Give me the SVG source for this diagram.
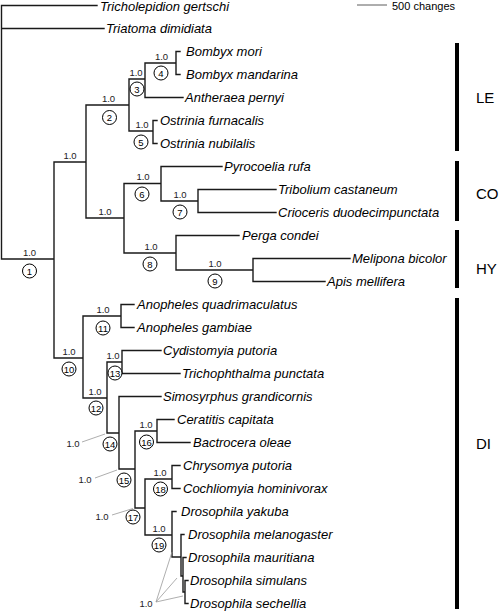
<svg xmlns="http://www.w3.org/2000/svg" width="500" height="611" viewBox="0 0 500 611">
<style>
.br{fill:none;stroke:#1a1a1a;stroke-width:1.4;stroke-linecap:square}
.lead{fill:none;stroke:#999;stroke-width:0.8}
.tx{font-family:"Liberation Sans",Arial,sans-serif;font-style:italic;font-size:13px;fill:#000}
.sup{font-family:"Liberation Sans",Arial,sans-serif;font-size:9.5px;fill:#222;text-anchor:middle}
.num{font-family:"Liberation Sans",Arial,sans-serif;font-size:9.5px;fill:#000;text-anchor:middle}
.cir{fill:#fff;stroke:#000;stroke-width:1}
.clade{font-family:"Liberation Sans",Arial,sans-serif;font-size:15px;fill:#000}
.bar{fill:#000}
</style>
<rect width="500" height="611" fill="#fff"/>
<g id="connectors">
<path class="br" d="M1.5 5.5V259M1.5 5.5H97M1.5 28.5H104M1.5 259H54M54 162V358M54 162H86M54 358H83M86 105V218M86 105H129M86 218H124M129 79V131M129 79H145M129 131H153M145 63V97.5M145 63H176M145 97.5H183M176 51.5V74.5M176 51.5H180M176 74.5H180M153 120.5V143.5M153 120.5H157M153 143.5H157M124 183.5V253M124 183.5H161M124 253H176M161 166.5V201M161 166.5H222M161 201H198M198 189.5V212.5M198 189.5H276M198 212.5H276M176 235.5V270M176 235.5H239M176 270H253M253 258.5V281.5M253 258.5H350M253 281.5H325M83 316V398M83 316H121M83 398H107M121 304.5V327.5M121 304.5H134M121 327.5H134M107 362V433M107 362H122M107 433H119M122 350.5V373.5M122 350.5H161M122 373.5H180M119 396.5V469M119 396.5H161M119 469H135M135 431V508M135 431H157M135 508H145M157 419.5V442.5M157 419.5H174M157 442.5H190M145 479V535M145 479H172M145 535H172M172 465.5V488.5M172 465.5H180M172 488.5H180M172 511.5V557M172 511.5H176M172 557H181M181 534.5V576M181 534.5H184M181 576H183M183 557.5V592M183 557.5H186M183 592H185M185 580.5V603.5M185 580.5H188M185 603.5H188"/>
<path class="lead" d="M82 442L105 434M95 478L117 470M112 515L133 508.5M156 602L172 552M156 602L177 578M156 602L183 596"/>
</g>
<g id="scale">
<line x1="357" y1="5" x2="387" y2="5" stroke="#333" stroke-width="0.8"/>
<text x="392" y="9.5" font-family="'Liberation Sans',Arial,sans-serif" font-size="11">500 changes</text>
</g>
<g id="taxa">
<g id="t-tricholepidion"><text class="tx" x="100" y="10.8">Tricholepidion gertschi</text></g>
<g id="t-triatoma"><text class="tx" x="106" y="33">Triatoma dimidiata</text></g>
<g id="t-bombyx-mori"><text class="tx" x="186" y="56">Bombyx mori</text></g>
<g id="t-bombyx-mandarina"><text class="tx" x="186" y="79">Bombyx mandarina</text></g>
<g id="t-antheraea"><text class="tx" x="185" y="102">Antheraea pernyi</text></g>
<g id="t-ostrinia-f"><text class="tx" x="160" y="125">Ostrinia furnacalis</text></g>
<g id="t-ostrinia-n"><text class="tx" x="160" y="148">Ostrinia nubilalis</text></g>
<g id="t-pyrocoelia"><text class="tx" x="224" y="171">Pyrocoelia rufa</text></g>
<g id="t-tribolium"><text class="tx" x="278" y="194">Tribolium castaneum</text></g>
<g id="t-crioceris"><text class="tx" x="278" y="217">Crioceris duodecimpunctata</text></g>
<g id="t-perga"><text class="tx" x="242" y="240">Perga condei</text></g>
<g id="t-melipona"><text class="tx" x="352" y="263">Melipona bicolor</text></g>
<g id="t-apis"><text class="tx" x="327" y="286">Apis mellifera</text></g>
<g id="t-anopheles-q"><text class="tx" x="137" y="309">Anopheles quadrimaculatus</text></g>
<g id="t-anopheles-g"><text class="tx" x="137" y="332">Anopheles gambiae</text></g>
<g id="t-cydistomyia"><text class="tx" x="163" y="355">Cydistomyia putoria</text></g>
<g id="t-trichophthalma"><text class="tx" x="182" y="378">Trichophthalma punctata</text></g>
<g id="t-simosyrphus"><text class="tx" x="163" y="401">Simosyrphus grandicornis</text></g>
<g id="t-ceratitis"><text class="tx" x="177" y="424">Ceratitis capitata</text></g>
<g id="t-bactrocera"><text class="tx" x="193" y="447">Bactrocera oleae</text></g>
<g id="t-chrysomya"><text class="tx" x="183" y="470">Chrysomya putoria</text></g>
<g id="t-cochliomyia"><text class="tx" x="183" y="493">Cochliomyia hominivorax</text></g>
<g id="t-dyakuba"><text class="tx" x="181" y="516">Drosophila yakuba</text></g>
<g id="t-dmelanogaster"><text class="tx" x="188" y="539">Drosophila melanogaster</text></g>
<g id="t-dmauritiana"><text class="tx" x="188" y="562">Drosophila mauritiana</text></g>
<g id="t-dsimulans"><text class="tx" x="190" y="585">Drosophila simulans</text></g>
<g id="t-dsechellia"><text class="tx" x="190" y="608">Drosophila sechellia</text></g>
</g>
<g id="nodes">
<g id="n1"><text class="sup" x="29.5" y="256">1.0</text><circle class="cir" cx="29.5" cy="271" r="7"/><text class="num" x="29.5" y="274.5">1</text></g>
<g id="nA"><text class="sup" x="70" y="159">1.0</text></g>
<g id="nB"><text class="sup" x="105" y="215">1.0</text></g>
<g id="n2"><text class="sup" x="108.5" y="102">1.0</text><circle class="cir" cx="109.5" cy="117.5" r="7"/><text class="num" x="109.5" y="121">2</text></g>
<g id="n3"><text class="sup" x="136" y="76">1.0</text><circle class="cir" cx="137" cy="89" r="7"/><text class="num" x="137" y="92.5">3</text></g>
<g id="n4"><text class="sup" x="161.5" y="60">1.0</text><circle class="cir" cx="161" cy="73" r="7"/><text class="num" x="161" y="76.5">4</text></g>
<g id="n5"><text class="sup" x="142" y="128">1.0</text><circle class="cir" cx="141" cy="142" r="7"/><text class="num" x="141" y="145.5">5</text></g>
<g id="n6"><text class="sup" x="143" y="180">1.0</text><circle class="cir" cx="142" cy="194" r="7"/><text class="num" x="142" y="197.5">6</text></g>
<g id="n7"><text class="sup" x="180" y="198">1.0</text><circle class="cir" cx="180" cy="212" r="7"/><text class="num" x="180" y="215.5">7</text></g>
<g id="n8"><text class="sup" x="151" y="250">1.0</text><circle class="cir" cx="150" cy="264" r="7"/><text class="num" x="150" y="267.5">8</text></g>
<g id="n9"><text class="sup" x="215" y="267">1.0</text><circle class="cir" cx="215" cy="281" r="7"/><text class="num" x="215" y="284.5">9</text></g>
<g id="n10"><text class="sup" x="69" y="355">1.0</text><circle class="cir" cx="69" cy="369" r="7"/><text class="num" x="69" y="372.5">10</text></g>
<g id="n11"><text class="sup" x="103" y="313">1.0</text><circle class="cir" cx="103" cy="328" r="7"/><text class="num" x="103" y="331.5">11</text></g>
<g id="n12"><text class="sup" x="95" y="395">1.0</text><circle class="cir" cx="96" cy="408" r="7"/><text class="num" x="96" y="411.5">12</text></g>
<g id="n13"><text class="sup" x="113" y="359">1.0</text><circle class="cir" cx="115" cy="373" r="7"/><text class="num" x="115" y="376.5">13</text></g>
<g id="n14"><text class="sup" x="73" y="447">1.0</text><circle class="cir" cx="110" cy="444" r="7"/><text class="num" x="110" y="447.5">14</text></g>
<g id="n15"><text class="sup" x="85" y="483">1.0</text><circle class="cir" cx="124" cy="480" r="7"/><text class="num" x="124" y="483.5">15</text></g>
<g id="n16"><text class="sup" x="146" y="428">1.0</text><circle class="cir" cx="146.5" cy="442" r="7"/><text class="num" x="146.5" y="445.5">16</text></g>
<g id="n17"><text class="sup" x="102" y="520">1.0</text><circle class="cir" cx="133" cy="517" r="7"/><text class="num" x="133" y="520.5">17</text></g>
<g id="n18"><text class="sup" x="160" y="476">1.0</text><circle class="cir" cx="160.5" cy="489" r="7"/><text class="num" x="160.5" y="492.5">18</text></g>
<g id="n19"><text class="sup" x="159" y="532">1.0</text><circle class="cir" cx="159" cy="545" r="7"/><text class="num" x="159" y="548.5">19</text></g>
<g id="nDros"><text class="sup" x="146" y="607">1.0</text></g>
</g>
<g id="clades">
<g id="LE"><rect class="bar" x="455" y="43" width="4" height="108"/><text class="clade" x="476" y="102.5">LE</text></g>
<g id="CO"><rect class="bar" x="455" y="161" width="4" height="60"/><text class="clade" x="476" y="198.5">CO</text></g>
<g id="HY"><rect class="bar" x="455" y="230" width="4" height="58"/><text class="clade" x="476" y="273.5">HY</text></g>
<g id="DI"><rect class="bar" x="455" y="298" width="4" height="311"/><text class="clade" x="476" y="448.5">DI</text></g>
</g>
</svg>
